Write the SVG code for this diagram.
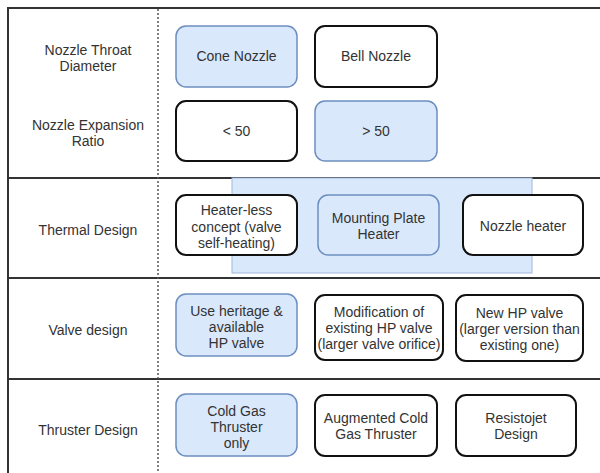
<svg xmlns="http://www.w3.org/2000/svg" width="600" height="473" viewBox="0 0 600 473">
<style>
text{font-family:"Liberation Sans",Arial,sans-serif;font-size:14px;fill:#333;text-anchor:middle}
.frame{stroke:#333;stroke-width:2;fill:none}
.dot{stroke:#555;stroke-width:1.5;stroke-dasharray:2 2;fill:none}
.w{fill:#fff;stroke:#111;stroke-width:2}
.b{fill:#dae8fc;stroke:#6c8ebf;stroke-width:1.5}
</style>
<rect width="600" height="473" fill="#fff"/>
<g id="frame">
<line class="frame" x1="8" y1="8" x2="600" y2="8"/>
<line class="frame" x1="8" y1="7" x2="8" y2="473"/>
<line class="frame" x1="8" y1="178" x2="600" y2="178"/>
<line class="frame" x1="8" y1="278" x2="600" y2="278"/>
<line class="frame" x1="8" y1="379" x2="600" y2="379"/>
<line class="dot" x1="158" y1="9" x2="158" y2="473"/>
</g>
<g id="labels">
<text x="88" y="55">Nozzle Throat</text>
<text x="88" y="71">Diameter</text>
<text x="88" y="130">Nozzle Expansion</text>
<text x="88" y="146">Ratio</text>
<text x="88" y="235">Thermal Design</text>
<text x="88" y="335">Valve design</text>
<text x="88" y="435">Thruster Design</text>
</g>
<g id="thermal-bg"><rect x="232" y="178" width="300" height="95" fill="#dae8fc" stroke="#9fb8dc" stroke-width="1"/></g>
<g id="cone"><rect class="b" x="176" y="26" width="121" height="61" rx="10"/><text x="236.5" y="61">Cone Nozzle</text></g>
<g id="bell"><rect class="w" x="315" y="26" width="122" height="61" rx="10"/><text x="376" y="61">Bell Nozzle</text></g>
<g id="lt50"><rect class="w" x="176" y="101" width="121" height="60" rx="10"/><text x="236.5" y="136">&lt; 50</text></g>
<g id="gt50"><rect class="b" x="315" y="101" width="122" height="60" rx="10"/><text x="376" y="136">&gt; 50</text></g>
<g id="heaterless"><rect class="w" x="176" y="195" width="121" height="60" rx="10"/><text x="236.5" y="215">Heater-less</text><text x="236.5" y="232">concept (valve</text><text x="236.5" y="248">self-heating)</text></g>
<g id="mounting"><rect class="b" x="318" y="195" width="121" height="60" rx="10"/><text x="378.5" y="223">Mounting Plate</text><text x="378.5" y="239">Heater</text></g>
<g id="nozzleheater"><rect class="w" x="463" y="195" width="120" height="60" rx="10"/><text x="523" y="231">Nozzle heater</text></g>
<g id="heritage"><rect class="b" x="176" y="294" width="121" height="62" rx="10"/><text x="236.5" y="316">Use heritage &amp;</text><text x="236.5" y="332">available</text><text x="236.5" y="348">HP valve</text></g>
<g id="modification"><rect class="w" x="315" y="295" width="128" height="65" rx="10"/><text x="379" y="317">Modification of</text><text x="379" y="333">existing HP valve</text><text x="379" y="349">(larger valve orifice)</text></g>
<g id="newhp"><rect class="w" x="456" y="295" width="127" height="66" rx="10"/><text x="519.5" y="318">New HP valve</text><text x="519.5" y="334">(larger version than</text><text x="519.5" y="350">existing one)</text></g>
<g id="coldgas"><rect class="b" x="176" y="394" width="121" height="62" rx="10"/><text x="236.5" y="416">Cold Gas</text><text x="236.5" y="432">Thruster</text><text x="236.5" y="448">only</text></g>
<g id="augmented"><rect class="w" x="315" y="395" width="122" height="61" rx="10"/><text x="376" y="423">Augmented Cold</text><text x="376" y="439">Gas Thruster</text></g>
<g id="resistojet"><rect class="w" x="456" y="395" width="120" height="61" rx="10"/><text x="516" y="423">Resistojet</text><text x="516" y="439">Design</text></g>
</svg>
